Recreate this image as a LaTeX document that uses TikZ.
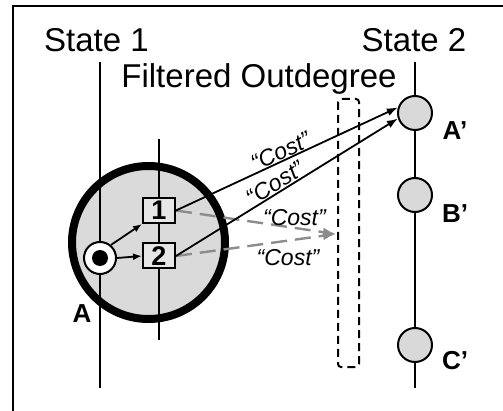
\documentclass[tikz,border=0pt]{standalone}
\usepackage{fontspec}
\setmainfont{Liberation Sans}
\usetikzlibrary{arrows.meta,positioning}
\definecolor{discgray}{HTML}{DADADA}
\definecolor{boxgray}{HTML}{E6E6E6}
\definecolor{nodegray}{HTML}{D9D9D9}
\definecolor{filtgray}{HTML}{8C8C8C}
\tikzset{
  timeline/.style={line width=2pt, black},
  statecirc/.style={
    circle, draw, line width=2pt, fill=nodegray,
    minimum size=34pt, inner sep=0pt
  },
  numbox/.style={
    rectangle, draw, line width=2pt, fill=boxgray,
    minimum width=32pt, minimum height=25pt, inner sep=0pt,
    font=\fontsize{27}{29}\selectfont\bfseries
  },
  titletext/.style={font=\fontsize{33}{36}\selectfont, anchor=base, inner sep=0pt},
  pointlabel/.style={font=\fontsize{26}{28}\selectfont\bfseries, inner sep=0pt},
  costlabel/.style={font=\fontsize{23}{25}\selectfont\itshape, inner sep=0.5pt, color=#1},
  costlabel/.default=black,
  costarrow/.style={-{Latex[length=11pt, width=8pt]}, line width=1.8pt},
  filtarrow/.style={
    -{Latex[length=13pt, width=9pt]}, line width=2.4pt, filtgray,
    dash pattern=on 16pt off 8pt
  },
}

\begin{document}
\begin{tikzpicture}[x=1pt, y=-1pt]
  \useasboundingbox (0,0) rectangle (503,411);

  % frame
  \draw[line width=2.5pt] (13,411) -- (13,6) -- (503,6);

  % titles
  \node[titletext] (st1) at (96.5,52) {State 1};
  \node[titletext] (st2) at (414,52) {State 2};
  \node[titletext] (filt) at (259,88) {Filtered Outdegree};

  % the big disc of state 1
  \node[circle, draw, line width=8pt, fill=discgray, minimum size=153pt,
        inner sep=0pt] (disc) at (148.5,242.5) {};

  % timelines
  \draw[timeline] (100,62) -- (100,388);
  \draw[timeline] (159,139) -- (159,340);
  \draw[timeline] (415,62) -- (415,388);

  % node A
  \node[circle, draw, line width=2pt, fill=white, minimum size=32pt,
        inner sep=0pt] (anode) at (100,258) {};
  \fill (anode.center) circle (8pt);
  \node[pointlabel] (alab) at (82,314) {A};

  % sub steps
  \node[numbox] (box1) at (159,210.5) {1};
  \node[numbox] (box2) at (159,256) {2};
  \draw[-{Latex[length=9pt, width=7pt]}, line width=1.8pt] (anode.50) -- (box1.south west);
  \draw[-{Latex[length=9pt, width=7pt]}, line width=1.8pt] (anode.east) -- (box2.west);

  % states of state 2
  \node[statecirc] (aprime) at (415,113) {};
  \node[statecirc] (bprime) at (415,195) {};
  \node[statecirc] (cprime) at (415,345) {};
  \node[pointlabel] (alab2) at (455,131) {A’};
  \node[pointlabel] (blab2) at (455,214) {B’};
  \node[pointlabel] (clab2) at (455,361) {C’};

  % filter window
  \draw[line width=2pt, dash pattern=on 8pt off 5pt, rounded corners=3pt]
    (338,99) rectangle (359,367);

  % cost edges
  \coordinate (gtip) at (336,234);
  \draw[filtarrow] (box1.east) -- (gtip)
    node[costlabel=black, pos=0.74, above=0pt] (c3) {``Cost''};
  \draw[filtarrow] (box2.east) -- (gtip)
    node[costlabel=black, pos=0.7, below=7pt] (c4) {``Cost''};
  \draw[costarrow] (box1.east) -- (aprime.162)
    node[costlabel, pos=0.49, sloped, above] (c1) {``Cost''};
  \draw[costarrow] (box2.east) -- (aprime.198)
    node[costlabel, pos=0.47, sloped, above] (c2) {``Cost''};
\end{tikzpicture}
\end{document}
